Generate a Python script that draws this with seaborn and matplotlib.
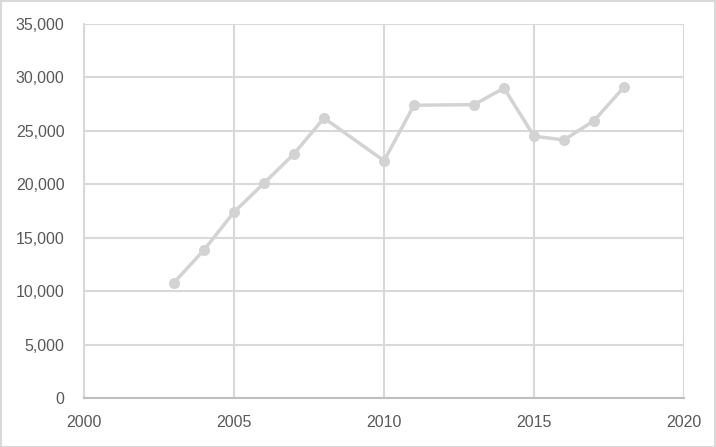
import matplotlib
matplotlib.use("Agg")
import matplotlib.pyplot as plt
import seaborn as sns
import pandas as pd
from matplotlib.ticker import FuncFormatter, MultipleLocator

years = [2003, 2004, 2005, 2006, 2007, 2008, 2010, 2011, 2013, 2014, 2015, 2016, 2017, 2018]
values = [10800, 13850, 17400, 20100, 22850, 26200, 22200, 27400, 27450, 29000, 24500, 24150, 25950, 29100]

df = pd.DataFrame({"year": years, "value": values})

sns.set_theme(style="white")
plt.rcParams['font.family'] = ['Liberation Sans', 'DejaVu Sans']

fig = plt.figure(figsize=(7.16, 4.47), dpi=100)
ax = fig.add_axes([84/716, 1 - 398/447, 600/716, 374/447])

sns.lineplot(data=df, x="year", y="value", ax=ax, color="#d3d3d3", linewidth=2.5,
             marker="o", markersize=8, markeredgewidth=0, markerfacecolor="#d3d3d3", zorder=3)

ax.set_xlim(2000, 2020)
ax.set_ylim(0, 35000)
ax.xaxis.set_major_locator(MultipleLocator(5))
ax.yaxis.set_major_locator(MultipleLocator(5000))
ax.yaxis.set_major_formatter(FuncFormatter(lambda v, p: f"{int(v):,}"))
ax.grid(True, color="#d9d9d9", linewidth=1.5)
ax.set_axisbelow(True)
for s in ["top", "right"]:
    ax.spines[s].set_visible(False)
ax.spines["left"].set_color("#d9d9d9")
ax.spines["left"].set_linewidth(1.5)
ax.spines["bottom"].set_color("#bfbfbf")
ax.spines["bottom"].set_linewidth(1.5)
ax.tick_params(axis="both", length=0, labelsize=11.5, colors="#595959")
ax.tick_params(axis="y", pad=14)
ax.tick_params(axis="x", pad=12)
ax.set_xlabel("")
ax.set_ylabel("")

border = plt.Rectangle((0.001, 0.001), 0.998, 0.997, transform=fig.transFigure,
                       fill=False, edgecolor="#d9d9d9", linewidth=1.5)
fig.patches.append(border)

fig.savefig("out.png", dpi=100)
